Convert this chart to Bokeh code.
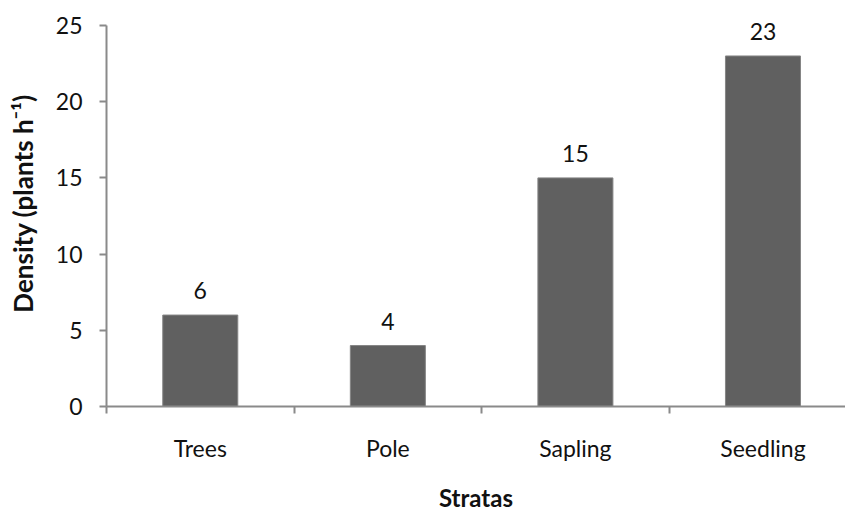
from bokeh.plotting import figure
from bokeh.models import Range1d, FixedTicker
from bokeh.core.properties import value
from bokeh.embed import file_html
from bokeh.resources import INLINE

# Stand density per stratum
categories = ["Trees", "Pole", "Sapling", "Seedling"]
density = [6, 4, 15, 23]
y_ticks = [0, 5, 10, 15, 20, 25]

FONT = "Lato"
AXIS_GRAY = "#8a8a8a"
BAR_FILL = "#606060"
TEXT = "#111111"

# each category occupies one unit slot; bars sit at slot centres
centers = [i + 0.5 for i in range(len(categories))]
slot_edges = list(range(len(categories) + 1))

# a little headroom above the top tick keeps the value labels unclipped;
# the axis line itself is bounded to the tick span
p = figure(
    width=845, height=514,
    x_range=Range1d(0, 3.94), y_range=Range1d(0, 26.64),
    output_backend="svg", toolbar_location=None,
    min_border_left=106, min_border_right=0,
    min_border_top=0, min_border_bottom=107,
)
p.outline_line_color = None
p.grid.visible = False
p.background_fill_color = "white"
p.border_fill_color = "white"

p.vbar(x=centers, top=density, width=0.4, bottom=0,
       fill_color=BAR_FILL, line_color="#858585", line_width=1)

p.text(x=centers, y=density, text=[str(v) for v in density],
       text_align="center", text_baseline="bottom", y_offset=-16,
       text_font=value(FONT), text_font_size="23px", text_color=TEXT)

# x axis: ticks between categories, names under each bar
xa = p.xaxis[0]
xa.ticker = FixedTicker(ticks=centers, minor_ticks=slot_edges)
xa.major_label_overrides = {c: name for c, name in zip(centers, categories)}
xa.major_tick_out = 0
xa.major_tick_in = 0
xa.minor_tick_out = 7
xa.minor_tick_in = 0
xa.minor_tick_line_color = AXIS_GRAY
xa.minor_tick_line_width = 2
xa.major_label_standoff = 20
xa.axis_label = "Stratas"
xa.axis_label_standoff = 18
xa.axis_label_text_font_size = "24px"

# y axis
ya = p.yaxis[0]
ya.ticker = FixedTicker(ticks=y_ticks, minor_ticks=[])
ya.bounds = (y_ticks[0], y_ticks[-1])
ya.major_tick_out = 7
ya.major_tick_in = 0
ya.major_tick_line_color = AXIS_GRAY
ya.major_tick_line_width = 2
ya.major_label_standoff = 17
ya.axis_label = "Density (plants h\u207b\u00b9)"
ya.axis_label_standoff = 14
ya.axis_label_text_font_size = "26px"

for ax in (xa, ya):
    ax.axis_line_color = AXIS_GRAY
    ax.axis_line_width = 2
    ax.major_label_text_font = FONT
    ax.major_label_text_font_size = "23px"
    ax.major_label_text_color = TEXT
    ax.axis_label_text_font = FONT
    ax.axis_label_text_font_style = "bold"
    ax.axis_label_text_color = TEXT

open("out.html", "w").write(file_html(p, INLINE))
